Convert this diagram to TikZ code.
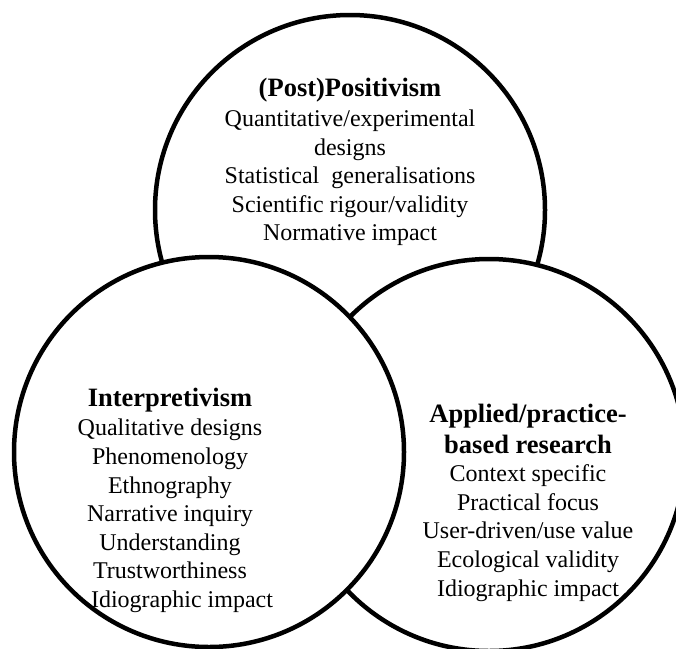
\documentclass[tikz,border=0pt]{standalone}
\usepackage{fontspec}
\setmainfont{Liberation Serif}
\tikzset{every picture/.style={line width=4.5pt}}

\begin{document}
\begin{tikzpicture}[x=1pt,y=-1pt]
\useasboundingbox (0,0) rectangle (676,648);
\clip (0,0) rectangle (676,648);
\begin{scope}[every node/.style={circle,draw,fill=white,minimum size=390pt}]
\node (Post) at (350,210) {};
\node[minimum size=392pt] (Appl) at (489,455) {};
\node (Interp) at (209,452) {};
\end{scope}

\begin{scope}[every node/.style={align=center,inner sep=0pt,font=\fontsize{24}{28.6}\selectfont}]
% headings
\node[font=\fontsize{26.5}{30.5}\selectfont\bfseries] (PostHead) at (350,90) {(Post)Positivism};
\node[font=\fontsize{26.5}{30.5}\selectfont\bfseries] (InterpHead) at (170,400) {Interpretivism};
\node[font=\fontsize{26.5}{30.5}\selectfont\bfseries] (ApplHead) at (528,429) {Applied/practice-\\based research};
% lists
\node (PostBody) at (350,178) {Quantitative/experimental\\designs\\Statistical~~generalisations\\Scientific rigour/validity\\Normative impact};
\node (InterpBody) at (170,516) {Qualitative designs\\Phenomenology\\Ethnography\\Narrative inquiry\\Understanding\\Trustworthiness\\\hspace*{24pt}Idiographic impact};
\node (ApplBody) at (528,533) {Context specific\\Practical focus\\User-driven/use value\\Ecological validity\\Idiographic impact};
\end{scope}
\end{tikzpicture}
\end{document}
